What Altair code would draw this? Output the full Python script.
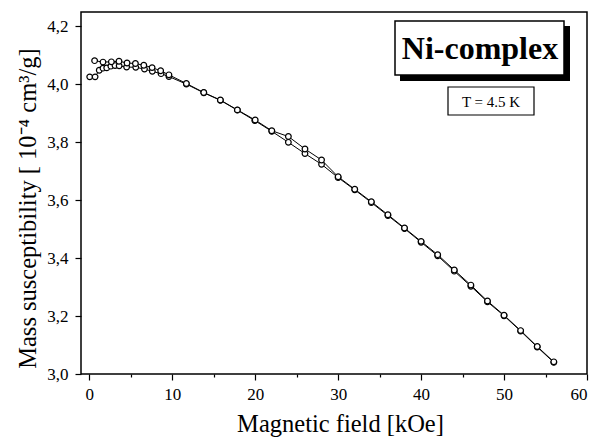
import altair as alt
import pandas as pd

# ascending field sweep
up_field = [0.05, 0.7, 1.2, 1.65, 2.1, 2.6, 3.1, 3.6, 4.5, 5.6, 6.65, 7.6, 8.65, 9.6,
            11.7, 13.8, 15.8, 17.85, 19.95, 22.0, 24.0, 26.0, 28.0, 30.0, 32.0, 34.0,
            36.0, 38.0, 40.0, 42.0, 44.0, 46.0, 48.0, 50.0, 52.0, 54.0, 56.0]
up_chi = [4.026, 4.026, 4.049, 4.056, 4.057, 4.063, 4.065, 4.064, 4.060, 4.059, 4.053,
          4.045, 4.037, 4.027, 4.001, 3.971, 3.945, 3.911, 3.875, 3.838, 3.800, 3.761,
          3.724, 3.678, 3.636, 3.592, 3.547, 3.502, 3.455, 3.408, 3.355, 3.303, 3.249,
          3.201, 3.148, 3.093, 3.040]

# descending field sweep
down_field = [0.64, 1.65, 2.66, 3.58, 4.55, 5.56, 6.57, 7.57, 8.6, 9.6, 11.7, 13.8,
              15.8, 17.85, 20.0, 22.0, 24.0, 26.0, 28.0, 30.0, 32.0, 34.0, 36.0, 38.0,
              40.0, 42.0, 44.0, 46.0, 48.0, 50.0, 52.0, 54.0, 56.0]
down_chi = [4.082, 4.077, 4.078, 4.080, 4.074, 4.072, 4.066, 4.058, 4.047, 4.033, 4.003,
            3.972, 3.946, 3.912, 3.877, 3.840, 3.820, 3.777, 3.739, 3.681, 3.638, 3.595,
            3.550, 3.504, 3.458, 3.412, 3.359, 3.307, 3.252, 3.203, 3.150, 3.095, 3.042]

x_ticks = [0, 5, 10, 15, 20, 25, 30, 35, 40, 45, 50, 55, 60]
y_ticks = [3.0, 3.1, 3.2, 3.3, 3.4, 3.5, 3.6, 3.7, 3.8, 3.9, 4.0, 4.1, 4.2]

title_text = "Ni-complex"
temp_text = "T = 4.5 K"

df = pd.concat([
    pd.DataFrame({"field": up_field, "chi": up_chi, "sweep": "up"}),
    pd.DataFrame({"field": down_field, "chi": down_chi, "sweep": "down"}),
], ignore_index=True)

FONT = "Liberation Serif"

x_enc = alt.X(
    "field:Q",
    scale=alt.Scale(domain=[-1, 60], nice=False, zero=False),
    axis=alt.Axis(
        values=x_ticks,
        labelExpr="datum.value % 10 === 0 ? format(datum.value, 'd') : ''",
        tickSize={"condition": {"test": "datum.value % 10 === 0", "value": 6}, "value": 3},
        title="Magnetic field [kOe]",
        titleFontSize=24.5,
        titleFontWeight="normal",
        titleBaseline="alphabetic",
        titleY=57,
        titleX=259,
        labelFontSize=17,
        labelPadding=6,
        grid=False,
        domain=False,
        tickColor="black",
        tickWidth=1.2,
        labelColor="black",
        titleColor="black",
    ),
)
y_enc = alt.Y(
    "chi:Q",
    scale=alt.Scale(domain=[3.0, 4.25], nice=False, zero=False),
    axis=alt.Axis(
        values=y_ticks,
        labelExpr="round(datum.value*10) % 2 === 0 ? replace(format(datum.value, '.1f'), '.', ',') : ''",
        tickSize={"condition": {"test": "round(datum.value*10) % 2 === 0", "value": 6}, "value": 4},
        title="Mass susceptibility [ 10⁻⁴ cm³/g]",
        titleFontSize=24.5,
        titleFontWeight="normal",
        titleBaseline="alphabetic",
        titleX=-46,
        titleY=196,
        labelFontSize=17,
        labelPadding=7,
        grid=False,
        domain=False,
        tickColor="black",
        tickWidth=1.2,
        labelColor="black",
        titleColor="black",
    ),
)

lines = alt.Chart(df).mark_line(color="black", strokeWidth=1).encode(
    x=x_enc, y=y_enc, detail="sweep:N"
)
points = alt.Chart(df).mark_circle(
    size=32, fill="white", stroke="black", strokeWidth=1.2, opacity=1
).encode(x="field:Q", y="chi:Q")

one = pd.DataFrame({"k": [0]})
shadow = alt.Chart(one).mark_rect(color="black").encode(
    x=alt.value(319), x2=alt.value(489), y=alt.value(14), y2=alt.value(69)
)
box = alt.Chart(one).mark_rect(fill="white", stroke="black", strokeWidth=1.5).encode(
    x=alt.value(314), x2=alt.value(483), y=alt.value(9), y2=alt.value(63)
)
label = alt.Chart(one).mark_text(
    text=title_text, font=FONT, fontSize=32, fontWeight="bold", color="black",
    align="center", baseline="alphabetic"
).encode(x=alt.value(399), y=alt.value(47))
tbox = alt.Chart(one).mark_rect(fill="white", stroke="black", strokeWidth=1.2).encode(
    x=alt.value(367), x2=alt.value(453), y=alt.value(75), y2=alt.value(103)
)
tlabel = alt.Chart(one).mark_text(
    text=temp_text, font=FONT, fontSize=15, color="black",
    align="center", baseline="alphabetic"
).encode(x=alt.value(410), y=alt.value(94.5))

chart = alt.layer(lines, points, shadow, box, label, tbox, tlabel).properties(
    width=506,
    height=362,
    autosize=alt.AutoSizeParams(type="none"),
    padding={"left": 73, "top": 4, "right": 2, "bottom": 65},
    background="white",
).configure_view(
    stroke="black", strokeWidth=1.5
).configure_axis(
    labelFont=FONT, titleFont=FONT
)

chart.save("out.html", embed_options={"renderer": "svg", "actions": False})
